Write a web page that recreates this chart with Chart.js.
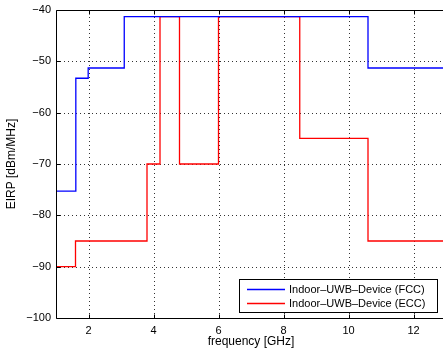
<!DOCTYPE html>
<html>
<head>
<meta charset="utf-8">
<script src="https://cdn.jsdelivr.net/npm/chart.js@4"></script>
<style>
  html, body { margin: 0; padding: 0; background: #fff; overflow: hidden; }
  canvas { display: block; }
</style>
</head>
<body>
<canvas id="maskChart" width="460" height="349"></canvas>
<script>
// spectral masks, step boundaries in GHz and EIRP levels in dBm/MHz
const fccFreq = [1, 1.61, 1.99, 3.1, 10.6, 13];
const fccLevel = [-75.3, -53.3, -51.3, -41.3, -51.3, -51.3];
const eccFreq = [1, 1.6, 3.8, 4.2, 4.8, 6, 8.5, 10.6, 13];
const eccLevel = [-90, -85, -70, -41.3, -70, -41.3, -65, -85, -85];
const seriesNames = ['Indoor\u2013UWB\u2013Device (FCC)', 'Indoor\u2013UWB\u2013Device (ECC)'];
const xTicks = [2, 4, 6, 8, 10, 12];
const yTicks = [-100, -90, -80, -70, -60, -50, -40];

const lineColors = ['#0000ff', '#ff0000'];
const font = { family: '"Liberation Sans", Arial, sans-serif', size: 11 };
Chart.defaults.font.family = font.family;
Chart.defaults.font.size = font.size;
Chart.defaults.color = '#000';

function toPoints(xs, ys) {
  return xs.map((x, i) => ({ x: x, y: ys[i] }));
}

function minus(v) {
  return String(v).replace('-', '\u2212');
}

// dotted grid, box around the plot, inward tick marks and the legend box
const matlabFrame = {
  id: 'matlabFrame',
  beforeDatasetsDraw(chart) {
    const ctx = chart.ctx;
    const a = chart.chartArea;
    const xs = chart.scales.x, ys = chart.scales.y;
    ctx.save();
    ctx.strokeStyle = '#333';
    ctx.lineWidth = 1;
    ctx.setLineDash([1, 3]);
    ctx.beginPath();
    xTicks.forEach(t => {
      const px = Math.round(xs.getPixelForValue(t)) + 0.5;
      ctx.moveTo(px, a.bottom); ctx.lineTo(px, a.top);
    });
    yTicks.slice(1, -1).forEach(t => {
      const py = Math.round(ys.getPixelForValue(t)) + 0.5;
      ctx.moveTo(a.left, py); ctx.lineTo(a.right, py);
    });
    ctx.stroke();
    ctx.restore();
  },
  afterDatasetsDraw(chart) {
    const ctx = chart.ctx;
    const a = chart.chartArea;
    const xs = chart.scales.x, ys = chart.scales.y;
    const L = Math.round(a.left) + 0.5, T = Math.round(a.top) + 0.5;
    const R = Math.round(a.right) + 0.5, B = Math.round(a.bottom) + 0.5;
    ctx.save();
    ctx.strokeStyle = '#000';
    ctx.lineWidth = 1;
    ctx.beginPath();
    ctx.rect(L, T, R - L, B - T);
    xTicks.forEach(t => {
      const px = Math.round(xs.getPixelForValue(t)) + 0.5;
      ctx.moveTo(px, B); ctx.lineTo(px, B - 4);
      ctx.moveTo(px, T); ctx.lineTo(px, T + 4);
    });
    yTicks.forEach(t => {
      const py = Math.round(ys.getPixelForValue(t)) + 0.5;
      ctx.moveTo(L, py); ctx.lineTo(L + 4, py);
    });
    ctx.stroke();

    // legend
    const bx = Math.round(a.left) + 183, by = Math.round(a.bottom) - 39, bw = 198, bh = 33;
    ctx.fillStyle = '#fff';
    ctx.fillRect(bx, by, bw, bh);
    ctx.strokeStyle = '#000';
    ctx.strokeRect(bx + 0.5, by + 0.5, bw, bh);
    ctx.font = font.size + 'px ' + font.family;
    ctx.textBaseline = 'middle';
    chart.data.datasets.forEach((ds, i) => {
      const ly = Math.round(by + 10 + i * 13.5);
      ctx.strokeStyle = lineColors[i];
      ctx.lineWidth = 1.5;
      ctx.beginPath();
      ctx.moveTo(bx + 8, ly + 0.5);
      ctx.lineTo(bx + 46, ly + 0.5);
      ctx.stroke();
      ctx.fillStyle = '#000';
      ctx.fillText(ds.label, bx + 50, ly + 1);
    });
    ctx.restore();
  }
};

new Chart(document.getElementById('maskChart').getContext('2d'), {
  type: 'line',
  data: {
    datasets: [{
      label: seriesNames[0],
      data: toPoints(fccFreq, fccLevel),
      borderColor: lineColors[0],
      borderWidth: 1.3,
      stepped: true,
      pointRadius: 0,
      fill: false
    }, {
      label: seriesNames[1],
      data: toPoints(eccFreq, eccLevel),
      borderColor: lineColors[1],
      borderWidth: 1.3,
      stepped: true,
      pointRadius: 0,
      fill: false
    }]
  },
  options: {
    responsive: false,
    animation: false,
    devicePixelRatio: 1,
    layout: { padding: { top: 10, right: 14, left: 0, bottom: 0 } },
    plugins: {
      legend: { display: false },
      tooltip: { enabled: false }
    },
    scales: {
      x: {
        type: 'linear',
        min: 1,
        max: 13,
        afterBuildTicks: s => { s.ticks = xTicks.map(v => ({ value: v })); },
        afterFit: s => { s.height = 31; s.paddingLeft = 0; s.paddingRight = 0; },
        grid: { display: false, drawTicks: false },
        border: { display: false },
        ticks: { padding: 6, maxRotation: 0, callback: v => minus(v) },
        title: { display: true, text: 'frequency [GHz]', font: { size: 12 }, padding: { top: 0, bottom: 0 } }
      },
      y: {
        min: -100,
        max: -40,
        afterBuildTicks: s => { s.ticks = yTicks.map(v => ({ value: v })); },
        afterFit: s => { s.width = 56; s.paddingTop = 0; s.paddingBottom = 0; },
        grid: { display: false, drawTicks: false },
        border: { display: false },
        ticks: { padding: 5, callback: v => minus(v) },
        title: { display: true, text: 'EIRP [dBm/MHz]', font: { size: 12 }, padding: { top: 4, bottom: 0 } }
      }
    }
  },
  plugins: [matlabFrame]
});
</script>
</body>
</html>
